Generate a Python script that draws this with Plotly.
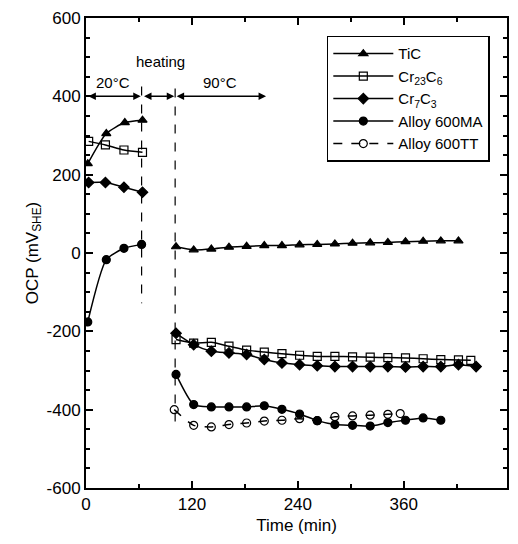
import plotly.graph_objects as go

# ---- data (time in min, OCP in mV vs SHE) ----
tic_t20 = [2, 23, 44, 64]
tic_v20 = [228, 305, 333, 339]
tic_t90 = [102, 122, 142, 162, 182, 202, 222, 242, 262, 282, 302, 322, 342, 362, 382, 402, 422]
tic_v90 = [16, 8, 10, 15, 17, 19, 19, 21, 22, 23, 25, 26, 27, 29, 30, 31, 31]

cr23_t20 = [3, 22, 43, 64]
cr23_v20 = [285, 276, 263, 257]
cr23_t90 = [102, 122, 142, 162, 182, 202, 222, 242, 262, 282, 302, 322, 342, 362, 382, 402, 422, 436]
cr23_v90 = [-221, -230, -228, -238, -248, -253, -257, -261, -264, -264, -265, -266, -267, -268, -270, -272, -273, -274]

cr7_t20 = [3, 22, 43, 64]
cr7_v20 = [180, 180, 168, 155]
cr7_t90 = [102, 122, 142, 162, 182, 202, 222, 242, 262, 282, 302, 322, 342, 362, 382, 402, 422, 442]
cr7_v90 = [-205, -234, -251, -255, -259, -272, -281, -285, -288, -290, -290, -290, -290, -291, -290, -290, -285, -290]

ma_t20 = [2, 23, 43, 63]
ma_v20 = [-176, -17, 12, 22]
ma_t90 = [102, 122, 142, 162, 182, 202, 222, 242, 262, 282, 302, 322, 342, 362, 382, 402]
ma_v90 = [-310, -387, -393, -393, -393, -390, -399, -411, -428, -438, -440, -442, -433, -427, -421, -427]

tt_t90 = [100, 122, 142, 162, 182, 202, 222, 242, 262, 282, 302, 322, 342, 356]
tt_v90 = [-400, -440, -444, -438, -434, -429, -427, -423, -428, -418, -416, -414, -412, -410]

x_ticks = [0, 120, 240, 360]
y_ticks = [-600, -400, -200, 0, 200, 400, 600]

series = [
    ("TiC", tic_t20, tic_v20, tic_t90, tic_v90, "triangle-up", "solid"),
    ("Cr<sub>23</sub>C<sub>6</sub>", cr23_t20, cr23_v20, cr23_t90, cr23_v90, "square-open", "solid"),
    ("Cr<sub>7</sub>C<sub>3</sub>", cr7_t20, cr7_v20, cr7_t90, cr7_v90, "diamond", "solid"),
    ("Alloy 600MA", ma_t20, ma_v20, ma_t90, ma_v90, "circle", "solid"),
    ("Alloy 600TT", [], [], tt_t90, tt_v90, "circle-open", "dash"),
]

fig = go.Figure()
for name, t20, v20, t90, v90, sym, dash in series:
    first = True
    for tt, vv in ((t20, v20), (t90, v90)):
        if not tt:
            continue
        fig.add_trace(go.Scatter(
            x=tt, y=vv, mode="lines+markers", name=name,
            legendgroup=name, showlegend=first,
            line=dict(color="black", width=1.5, dash=dash, shape="spline", smoothing=0.6),
            marker=dict(symbol=sym, size=8, color="black",
                        line=dict(color="black", width=1.2)),
        ))
        first = False

# vertical dashed lines
fig.add_shape(type="line", x0=63, x1=63, y0=425, y1=-128, xref="x", yref="y",
              line=dict(color="black", width=1.2, dash="dash"))
fig.add_shape(type="line", x0=101, x1=101, y0=420, y1=-434, xref="x", yref="y",
              line=dict(color="black", width=1.2, dash="dash"))

# double-headed arrows
for a, b in ((1, 62), (64, 100), (101, 204)):
    fig.add_annotation(x=b, y=400, ax=a, ay=400, xref="x", yref="y", axref="x", ayref="y",
                       text="", showarrow=True, arrowhead=2, arrowside="end+start",
                       arrowsize=1, arrowwidth=1.5, arrowcolor="black")

for txt, x, y in (("20°C", 31, 435), ("heating", 84, 488), ("90°C", 152, 435)):
    fig.add_annotation(x=x, y=y, xref="x", yref="y", text=txt, showarrow=False,
                       font=dict(size=15, color="black", family="Liberation Sans"))

axis_common = dict(
    showline=True, linecolor="black", linewidth=2, mirror="allticks",
    ticks="inside", ticklen=7, tickwidth=1.5, tickcolor="black",
    showgrid=False, zeroline=False,
    tickfont=dict(size=17, color="black", family="Liberation Sans"),
)

fig.update_xaxes(range=[0, 477], tickvals=x_ticks, ticktext=[str(v) for v in x_ticks],
                 minor=dict(dtick=60, tick0=0, ticks="inside", ticklen=4, tickcolor="black"),
                 title=dict(text="Time (min)", font=dict(size=17, color="black", family="Liberation Sans"), standoff=6),
                 **axis_common)
fig.update_yaxes(range=[-600, 600], tickvals=y_ticks, ticktext=[str(v) for v in y_ticks],
                 minor=dict(dtick=50, tick0=0, ticks="inside", ticklen=4, tickcolor="black"),
                 title=dict(text="OCP (mV<sub>SHE</sub>)", font=dict(size=17, color="black", family="Liberation Sans"), standoff=4),
                 **axis_common)

fig.update_layout(
    width=518, height=544,
    margin=dict(l=86, r=9, t=17, b=56),
    paper_bgcolor="white", plot_bgcolor="white",
    font=dict(family="Liberation Sans", color="black"),
    legend=dict(x=0.572, y=0.962, xanchor="left", yanchor="top",
                bgcolor="white", bordercolor="black", borderwidth=1.5,
                font=dict(size=15, color="black", family="Liberation Sans"),
                itemwidth=60, tracegroupgap=0),
    showlegend=True,
)

fig.write_html("out.html", config={"displayModeBar": False},
               post_script="document.body.style.margin='0';")
